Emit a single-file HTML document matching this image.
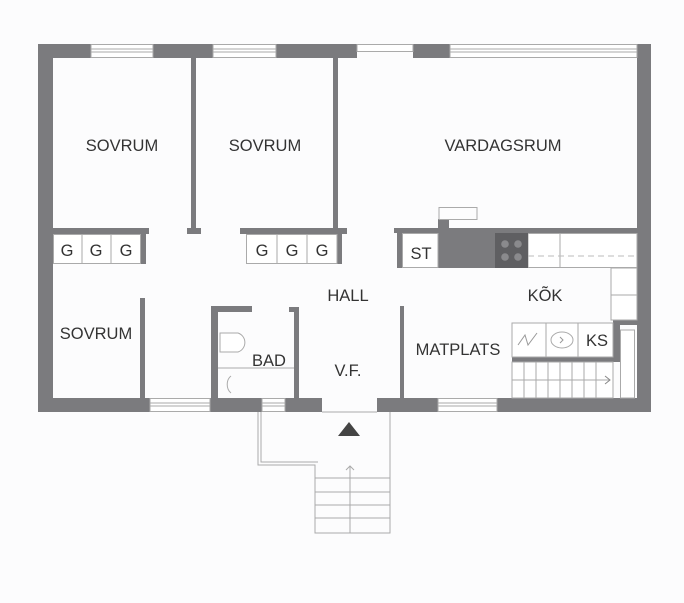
<!DOCTYPE html>
<html><head><meta charset="utf-8"><style>
html,body{margin:0;padding:0;background:#fcfcfd;}
svg{display:block;}
text{font-family:"Liberation Sans",sans-serif;fill:#333;}
</style></head><body>
<svg width="684" height="603" viewBox="0 0 684 603" xmlns="http://www.w3.org/2000/svg">
<rect width="684" height="603" fill="#fcfcfd"/>
<g fill="#7b7b7e">
<!-- top wall -->
<rect x="38" y="44" width="53" height="14"/>
<rect x="153" y="44" width="60" height="14"/>
<rect x="276" y="44" width="81" height="14"/>
<rect x="413" y="44" width="37" height="14"/>
<!-- left & right -->
<rect x="38" y="44" width="15" height="368"/>
<rect x="637" y="44" width="14" height="368"/>
<!-- bottom wall -->
<rect x="38" y="398" width="112" height="14"/>
<rect x="210" y="398" width="52" height="14"/>
<rect x="285" y="398" width="37" height="14"/>
<rect x="377" y="398" width="61" height="14"/>
<rect x="497" y="398" width="154" height="14"/>
<!-- partitions -->
<rect x="191" y="58" width="5" height="170"/>
<rect x="187" y="228" width="14" height="6"/>
<rect x="333" y="58" width="5" height="170"/>
<rect x="333" y="228" width="14" height="5"/>
<!-- closet walls -->
<rect x="53" y="228" width="96" height="6"/>
<rect x="141" y="234" width="5" height="30"/>
<rect x="240" y="228" width="107" height="6"/>
<rect x="337" y="234" width="5" height="30"/>
<!-- sovrum3 wall -->
<rect x="140" y="298" width="5" height="100"/>
<!-- bad -->
<rect x="211" y="306" width="7" height="92"/>
<rect x="211" y="306" width="41" height="6"/>
<rect x="289" y="307" width="10" height="5"/>
<rect x="294" y="307" width="5" height="91"/>
<!-- matplats wall -->
<rect x="400" y="306" width="4" height="92"/>
<!-- kitchen -->
<rect x="394" y="228" width="243" height="5"/>
<rect x="397" y="228" width="5" height="40"/>
<rect x="438" y="219" width="11" height="14"/>
<rect x="438" y="233" width="57" height="35"/>
<rect x="613" y="323" width="7" height="39"/>
<rect x="613" y="320" width="24" height="5"/>
<rect x="512" y="357" width="108" height="5"/>
</g>
<!-- windows -->
<g fill="#fff" stroke="#aaa" stroke-width="1">
<rect x="91" y="44.5" width="62" height="13"/>
<rect x="213" y="44.5" width="63" height="13"/>
<rect x="357" y="44.5" width="56" height="7"/>
<rect x="450" y="44.5" width="187" height="13"/>
<rect x="150" y="398.5" width="60" height="13"/>
<rect x="262" y="398.5" width="23" height="13"/>
<rect x="438" y="398.5" width="59" height="13"/>
</g>
<g stroke="#aaa" stroke-width="1">
<line x1="91" y1="49" x2="153" y2="49"/><line x1="91" y1="52" x2="153" y2="52"/>
<line x1="213" y1="49" x2="276" y2="49"/><line x1="213" y1="52" x2="276" y2="52"/>
<line x1="450" y1="49" x2="637" y2="49"/><line x1="450" y1="52" x2="637" y2="52"/>
<line x1="150" y1="403" x2="210" y2="403"/><line x1="150" y1="406" x2="210" y2="406"/>
<line x1="262" y1="403" x2="285" y2="403"/><line x1="262" y1="406" x2="285" y2="406"/>
<line x1="438" y1="403" x2="497" y2="403"/><line x1="438" y1="406" x2="497" y2="406"/>
<line x1="322" y1="412" x2="377" y2="412"/>
</g>
<!-- closets -->
<g fill="#fff" stroke="#aaa">
<rect x="53.5" y="234.5" width="87" height="29"/>
<line x1="82" y1="234" x2="82" y2="264"/><line x1="111" y1="234" x2="111" y2="264"/>
<rect x="246.5" y="234.5" width="90.5" height="29"/>
<line x1="277" y1="234" x2="277" y2="264"/><line x1="307" y1="234" x2="307" y2="264"/>
<!-- kitchen counters -->
<rect x="402.5" y="233.5" width="35.5" height="34"/>
<rect x="439" y="207.5" width="38" height="12" fill="none"/>
<rect x="528" y="233.5" width="109" height="34"/>
<line x1="560" y1="233" x2="560" y2="268"/>
<rect x="611" y="268" width="26" height="52"/>
<line x1="611" y1="295" x2="637" y2="295"/>
<rect x="512" y="323" width="101" height="34"/>
<line x1="546" y1="323" x2="546" y2="357"/><line x1="578" y1="323" x2="578" y2="357"/>
<rect x="620.5" y="330" width="14" height="68"/>
<rect x="512" y="362" width="101" height="36"/>
</g>
<line x1="528" y1="256" x2="637" y2="256" stroke="#bbb" stroke-dasharray="6,4"/>
<rect x="495" y="233" width="33" height="35" fill="#5f5f62"/>
<g fill="#8a8a8d"><circle cx="505" cy="244" r="3.8"/><circle cx="518" cy="244" r="3.8"/><circle cx="505" cy="257" r="3.8"/><circle cx="518" cy="257" r="3.8"/></g>
<!-- KS icons -->
<polyline points="518,345 525,335 528,345 537,333" fill="none" stroke="#999"/>
<ellipse cx="562" cy="340" rx="11" ry="8" fill="none" stroke="#aaa"/>
<polyline points="560,337 563,340 560,343" fill="none" stroke="#999"/>
<!-- stair lines -->
<g stroke="#aaa">
<line x1="524" y1="362" x2="524" y2="398"/><line x1="536" y1="362" x2="536" y2="398"/>
<line x1="548" y1="362" x2="548" y2="398"/><line x1="560" y1="362" x2="560" y2="398"/>
<line x1="572" y1="362" x2="572" y2="398"/><line x1="584" y1="362" x2="584" y2="398"/>
<line x1="596" y1="362" x2="596" y2="398"/>
<line x1="512" y1="380" x2="610" y2="380"/>
</g>
<polyline points="605,376 610,380 605,384" fill="none" stroke="#888"/>
<!-- bad details -->
<line x1="218" y1="368" x2="294" y2="368" stroke="#aaa"/>
<path d="M220,333 L238,333 A10,10 0 0 1 238,352 L220,352 Z" fill="#fff" stroke="#aaa"/>
<path d="M231,376 A8,10 0 0 0 231,393" fill="none" stroke="#aaa"/>
<!-- entrance -->
<g stroke="#aaa" fill="none">
<polyline points="258,412 258,465 315,465 315,533 390,533 390,412"/>
<polyline points="261,412 261,462 318,462"/>
<line x1="315" y1="478" x2="390" y2="478"/><line x1="315" y1="492" x2="390" y2="492"/>
<line x1="315" y1="505" x2="390" y2="505"/><line x1="315" y1="518" x2="390" y2="518"/>
<line x1="350" y1="466" x2="350" y2="533"/>
<polyline points="346,470 350,466 354,470"/>
</g>
<polygon points="349,422 360,436 338,436" fill="#444"/>
<!-- labels -->
<g font-size="16.5" text-anchor="middle">
<text x="122" y="151">SOVRUM</text>
<text x="265" y="151">SOVRUM</text>
<text x="503" y="151">VARDAGSRUM</text>
<text x="96" y="339">SOVRUM</text>
<text x="348" y="301">HALL</text>
<text x="545" y="301">KÕK</text>
<text x="458" y="355">MATPLATS</text>
<text x="348" y="376">V.F.</text>
<text x="269" y="366">BAD</text>
<text x="421" y="259">ST</text>
<text x="597" y="346">KS</text>
<text x="67" y="256">G</text><text x="96" y="256">G</text><text x="126" y="256">G</text>
<text x="262" y="256">G</text><text x="292" y="256">G</text><text x="322" y="256">G</text>
</g>
</svg>
</body></html>
